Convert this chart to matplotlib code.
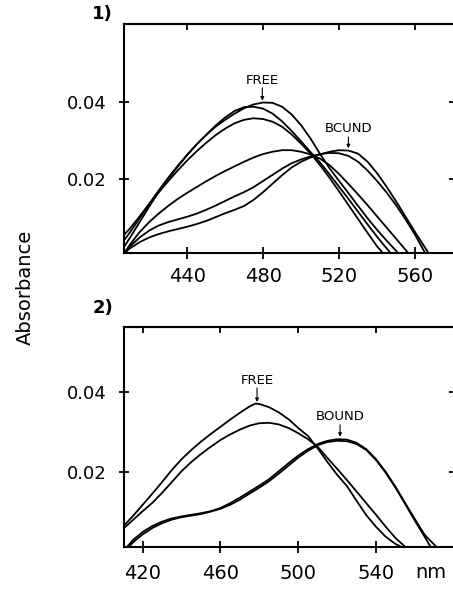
import matplotlib
matplotlib.use("Agg")
import matplotlib.pyplot as plt

# ---------------- Panel 1 data (wavelength nm, absorbance) ----------------
p1_free1_x = [407, 410, 415, 420, 425, 430, 435, 440, 445, 450, 455, 460, 465, 470, 475, 480, 485, 490, 495, 500, 505, 510, 515, 520, 525, 530, 535, 540, 545, 551]
p1_free1_y = [.0025, .0048, .0088, .0128, .0166, .0200, .0232, .0262, .0290, .0314, .0336, .0354, .0370, .0384, .0394, .0399, .0398, .0388, .0368, .0340, .0305, .0265, .0228, .0195, .0163, .0130, .0098, .0068, .0040, .0008]

p1_free2_x = [407, 410, 415, 420, 425, 430, 435, 440, 445, 450, 455, 460, 465, 470, 475, 480, 485, 490, 495, 500, 505, 510, 515, 520, 525, 530, 535, 540, 547]
p1_free2_y = [.0042, .0062, .0098, .0135, .0170, .0203, .0234, .0263, .0290, .0315, .0339, .0360, .0377, .0387, .0388, .0383, .0370, .0350, .0325, .0298, .0270, .0243, .0212, .0180, .0148, .0115, .0082, .0050, .0008]

p1_free3_x = [407, 410, 415, 420, 425, 430, 435, 440, 445, 450, 455, 460, 465, 470, 475, 480, 485, 490, 495, 500, 505, 510, 515, 520, 525, 530, 535, 540, 543]
p1_free3_y = [.0056, .0072, .0103, .0135, .0165, .0194, .0222, .0248, .0272, .0294, .0314, .0331, .0345, .0354, .0358, .0356, .0349, .0336, .0316, .0292, .0266, .0236, .0203, .0168, .0132, .0096, .0060, .0025, .0008]

p1_mid_x = [407, 410, 415, 420, 425, 430, 435, 440, 445, 450, 455, 460, 465, 470, 475, 480, 485, 490, 495, 500, 505, 510, 515, 520, 525, 530, 535, 540, 545, 550, 556]
p1_mid_y = [.0008, .0030, .0062, .0088, .0110, .0130, .0148, .0164, .0179, .0194, .0208, .0221, .0233, .0245, .0256, .0265, .0271, .0275, .0275, .0271, .0264, .0253, .0236, .0213, .0187, .0160, .0132, .0103, .0074, .0045, .0010]

p1_bound2_x = [407, 410, 415, 420, 425, 430, 435, 440, 445, 450, 455, 460, 465, 470, 475, 480, 485, 490, 495, 500, 505, 510, 515, 520, 525, 530, 535, 540, 545, 550, 555, 560, 565]
p1_bound2_y = [.0008, .0025, .0048, .0066, .0079, .0088, .0095, .0102, .0110, .0120, .0131, .0143, .0155, .0166, .0179, .0195, .0211, .0227, .0241, .0251, .0259, .0265, .0268, .0267, .0260, .0245, .0222, .0195, .0165, .0132, .0095, .0055, .0010]

p1_bound1_x = [407, 410, 415, 420, 425, 430, 435, 440, 445, 450, 455, 460, 465, 470, 475, 480, 485, 490, 495, 500, 505, 510, 515, 520, 525, 530, 535, 540, 545, 550, 555, 560, 567]
p1_bound1_y = [.0008, .0020, .0036, .0048, .0057, .0064, .0070, .0076, .0083, .0091, .0101, .0111, .0120, .0130, .0146, .0166, .0188, .0210, .0230, .0245, .0256, .0264, .0271, .0275, .0274, .0266, .0245, .0215, .0180, .0142, .0102, .0062, .0008]

# ---------------- Panel 2 data ----------------
p2_free1_x = [410, 415, 420, 425, 430, 435, 440, 445, 450, 455, 460, 465, 470, 475, 478, 480, 485, 490, 495, 500, 505, 510, 515, 520, 525, 530, 535, 540, 545, 550, 553]
p2_free1_y = [.0064, .0090, .0118, .0146, .0175, .0205, .0232, .0255, .0276, .0295, .0313, .0331, .0348, .0364, .0371, .0370, .0362, .0349, .0332, .0310, .0290, .0259, .0225, .0193, .0165, .0128, .0092, .0063, .0038, .0020, .0013]

p2_free2_x = [410, 415, 420, 425, 430, 435, 440, 445, 450, 455, 460, 465, 470, 475, 480, 485, 490, 495, 500, 505, 510, 515, 520, 525, 530, 535, 540, 545, 550, 555]
p2_free2_y = [.0058, .0080, .0102, .0123, .0148, .0175, .0202, .0225, .0245, .0263, .0280, .0294, .0306, .0316, .0322, .0323, .0319, .0310, .0297, .0282, .0263, .0235, .0208, .0180, .0151, .0122, .0093, .0063, .0035, .0013]

p2_bound1_x = [412, 415, 420, 425, 430, 435, 440, 445, 450, 455, 460, 465, 470, 475, 480, 485, 490, 495, 500, 505, 510, 515, 520, 525, 530, 535, 540, 545, 550, 555, 560, 565, 571]
p2_bound1_y = [.0013, .0030, .0050, .0065, .0076, .0084, .0089, .0093, .0097, .0102, .0110, .0122, .0136, .0151, .0166, .0182, .0202, .0222, .0241, .0257, .0270, .0278, .0282, .0281, .0273, .0257, .0232, .0200, .0163, .0122, .0082, .0043, .0013]

p2_bound2_x = [413, 415, 420, 425, 430, 435, 440, 445, 450, 455, 460, 465, 470, 475, 480, 485, 490, 495, 500, 505, 510, 515, 520, 525, 530, 535, 540, 545, 550, 555, 560, 565, 568]
p2_bound2_y = [.0013, .0024, .0044, .0060, .0072, .0081, .0087, .0091, .0095, .0101, .0108, .0118, .0131, .0146, .0161, .0177, .0196, .0216, .0236, .0253, .0267, .0275, .0278, .0277, .0270, .0255, .0230, .0198, .0161, .0120, .0078, .0038, .0013]

p1_xticks = [440, 480, 520, 560]
p2_xticks = [420, 460, 500, 540]
y_ticks = [0.02, 0.04]
y_ticklabels = ["0.02", "0.04"]

W, H = 453, 590
fig = plt.figure(figsize=(W / 100, H / 100), dpi=100)

def px_axes(left, top, right, bottom):
    return fig.add_axes([left / W, 1 - bottom / H, (right - left) / W, (bottom - top) / H])

ax1 = px_axes(124, 24, 455, 253)
ax2 = px_axes(124, 327, 455, 547)

LW = 1.3
for xs, ys in [(p1_free1_x, p1_free1_y), (p1_free2_x, p1_free2_y), (p1_free3_x, p1_free3_y),
               (p1_mid_x, p1_mid_y), (p1_bound2_x, p1_bound2_y), (p1_bound1_x, p1_bound1_y)]:
    ax1.plot(xs, ys, color="black", lw=LW, solid_joinstyle="round")
for xs, ys in [(p2_free1_x, p2_free1_y), (p2_free2_x, p2_free2_y),
               (p2_bound1_x, p2_bound1_y), (p2_bound2_x, p2_bound2_y)]:
    ax2.plot(xs, ys, color="black", lw=LW, solid_joinstyle="round")

ax1.set_xlim(406.8, 581.0)
ax1.set_ylim(0.00078, 0.0603)
ax2.set_xlim(410.4, 580.6)
ax2.set_ylim(0.00125, 0.05625)

for ax, xt, xpad in [(ax1, p1_xticks, 6), (ax2, p2_xticks, 8)]:
    ax.set_xticks(xt)
    ax.set_xticklabels([str(v) for v in xt])
    ax.set_yticks(y_ticks)
    ax.set_yticklabels(y_ticklabels)
    for s in ["left", "bottom", "top"]:
        ax.spines[s].set_linewidth(1.5)
    ax.spines["right"].set_visible(False)
    ax.tick_params(axis="y", direction="inout", length=7, width=1.3, labelsize=13, pad=9,
                   right=False)
    ax.tick_params(axis="x", direction="inout", length=8, width=1.3, labelsize=14, pad=xpad,
                   top=False)
    # short inward ticks on the top and right edges
    secx = ax.secondary_xaxis("top")
    secx.set_xticks(xt)
    secx.tick_params(direction="in", length=4, width=1.3, labeltop=False)
    secx.spines["top"].set_linewidth(1.5)
    secy = ax.secondary_yaxis("right")
    secy.set_yticks(y_ticks)
    secy.tick_params(direction="in", length=4, width=1.3, labelright=False)
    secy.spines["right"].set_visible(False)

def label_arrow(ax, text, x, ytext, y0, y1, fs=9.5):
    ax.text(x, ytext, text, ha="center", va="center", fontsize=fs)
    ax.annotate("", xy=(x, y1), xytext=(x, y0),
                arrowprops=dict(arrowstyle="-|>", lw=0.8, color="black", mutation_scale=5,
                                shrinkA=0, shrinkB=0))

label_arrow(ax1, "FREE", 479.6, 0.0457, 0.0437, 0.0404)
label_arrow(ax1, "BCUND", 524.9, 0.0332, 0.0309, 0.0280)
label_arrow(ax2, "FREE", 478.8, 0.0428, 0.0410, 0.0375)
label_arrow(ax2, "BOUND", 521.5, 0.0339, 0.0318, 0.0288)

fig.text(102 / W, 1 - 14 / H, "1)", ha="center", va="center", fontsize=13, fontweight="bold")
fig.text(103 / W, 1 - 308 / H, "2)", ha="center", va="center", fontsize=13, fontweight="bold")
fig.text(25 / W, 1 - 287 / H, "Absorbance", ha="center", va="center", rotation=90, fontsize=14)
fig.text(431 / W, 1 - 572 / H, "nm", ha="center", va="center", fontsize=14)

fig.savefig("out.png", dpi=100)
